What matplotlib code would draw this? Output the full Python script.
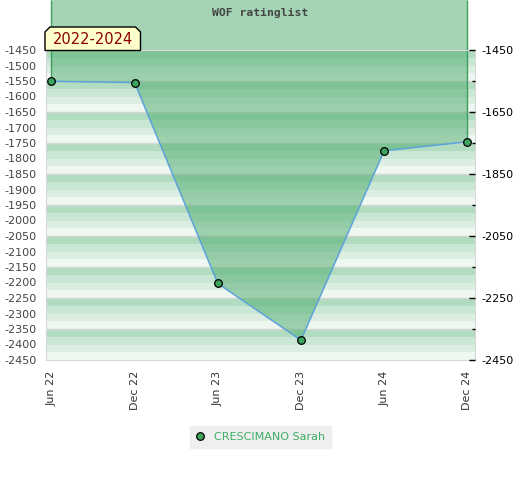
import numpy as np
import matplotlib.pyplot as plt
from matplotlib.patches import Polygon
from matplotlib.lines import Line2D

plt.rcParams['axes.unicode_minus'] = False
plt.rcParams['font.family'] = 'DejaVu Sans'

# datos
fechas = ['Jun 22', 'Dec 22', 'Jun 23', 'Dec 23', 'Jun 24', 'Dec 24']
rating = [-1551, -1555, -2203, -2386, -1775, -1746]
jugador = 'CRESCIMANO Sarah'
periodo = '2022-2024'
titulo = 'WOF ratinglist'

ticks_izq = np.arange(-1450, -2451, -50)
ticks_der = np.arange(-1450, -2451, -200)
ticks_der_menor = np.arange(-1550, -2451, -200)

colores_bandas = ['#b2dcc0', '#c9e7d4', '#dceee2', '#eff7f1']

fig = plt.figure(figsize=(5.2, 4.8), dpi=100)
ax = fig.add_axes([46 / 520, 120 / 480, 428.5 / 520, 310 / 480])
ax.set_ylim(-2450, -1450)
ax.set_xlim(-0.066, 5.087)

# bandas de fondo
for inicio in range(-1450, -2450, -100):
    for i, c in enumerate(colores_bandas):
        ax.axhspan(inicio - 25 * i, inicio - 25 * (i + 1), color=c, lw=0, zorder=0)
    ax.axhline(inicio, color='#d6d6d6', lw=1, zorder=0.5)

x = np.arange(len(fechas))

# relleno hasta el borde superior de la figura
arriba = ax.transData.inverted().transform(fig.transFigure.transform((0, 1)))[1]
ax.fill_between(x, rating, arriba, facecolor=(75 / 255, 171 / 255, 107 / 255, 0.5),
                edgecolor='none', lw=0, clip_on=False, zorder=1)
ax.vlines([x[0], x[-1]], [rating[0], rating[-1]], arriba, color='#3c9f5e', lw=1,
          clip_on=False, zorder=1.5)
ax.plot(x, rating, color='#5ba3d9', lw=1.1, zorder=2)
ax.plot(x, rating, 'o', ms=5.5, mfc='#3da35d', mec='black', mew=0.9, zorder=3, clip_on=False)

ax.set_xticks(x)
ax.set_xticklabels(fechas, rotation=90, fontsize=8, color='#333333')
ax.set_yticks(ticks_izq)
ax.set_yticklabels([str(t) for t in ticks_izq], fontsize=8, color='#444444')
ax.tick_params(axis='both', length=0)
ax.tick_params(axis='x', pad=8)
ax.tick_params(axis='y', pad=7)
for lado in ['left', 'bottom', 'right', 'top']:
    ax.spines[lado].set_color('#d8d8d8')
    ax.spines[lado].set_zorder(4)

ax2 = ax.twinx()
ax2.set_ylim(-2450, -1450)
ax2.set_yticks(ticks_der)
ax2.set_yticklabels([str(t) for t in ticks_der], fontsize=8, color='#111111')
ax2.set_yticks(ticks_der_menor, minor=True)
ax2.tick_params(axis='y', which='major', direction='in', length=4, width=1, pad=5, colors='black')
ax2.tick_params(axis='y', which='minor', direction='in', length=2.5, width=1, colors='black')
for lado in ['left', 'bottom', 'right', 'top']:
    ax2.spines[lado].set_visible(False)

# titulo
fig.text(260.5 / 520, 1 - 13 / 480, titulo, ha='center', va='center', fontsize=8.2,
         family='DejaVu Sans Mono', weight='bold', color='#444444')

# etiqueta del periodo
x0, x1, y0, y1, ch = 45, 140.5, 27, 50.5, 5
pts = [(x0, y1), (x0, y0 + ch), (x0 + ch, y0), (x1 - ch, y0), (x1, y0 + ch), (x1, y1)]
pts = [(px / 520, 1 - py / 480) for px, py in pts]
fig.patches.append(Polygon(pts, closed=True, facecolor='#ffffcc', edgecolor='black',
                           lw=1, transform=fig.transFigure, zorder=5))
fig.text((x0 + x1) / 2 / 520, 1 - 39.5 / 480, periodo, ha='center', va='center',
         fontsize=10.5, color='#8b0000', zorder=6)

# leyenda
manija = Line2D([], [], marker='o', ls='', ms=5.5, mfc='#3da35d', mec='black', mew=0.9)
ley = fig.legend([manija], [jugador], loc='center', bbox_to_anchor=(260.5 / 520, 1 - 437 / 480),
                 fontsize=8, frameon=True, fancybox=False, handlelength=0.8, handletextpad=0.8,
                 borderpad=0.5, borderaxespad=0)
ley.get_frame().set_facecolor('#efefef')
ley.get_frame().set_edgecolor('#efefef')
ley.get_frame().set_alpha(1)
for t in ley.get_texts():
    t.set_color('#3cae64')

plt.savefig('out.png', dpi=100)
